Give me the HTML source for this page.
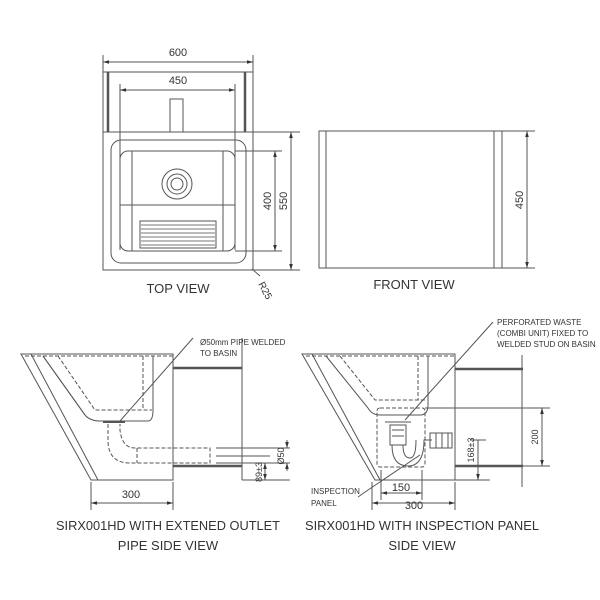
<!DOCTYPE html>
<html><head><meta charset="utf-8"><style>
html,body{margin:0;padding:0;background:#fff;width:600px;height:600px;overflow:hidden}
svg{display:block}
text{font-family:"Liberation Sans",sans-serif;fill:#333}
</style></head><body>
<svg width="600" height="600" viewBox="0 0 600 600" xmlns="http://www.w3.org/2000/svg">
<defs>
<marker id="a" viewBox="0 0 10 10" refX="10" refY="5" markerWidth="6" markerHeight="6" orient="auto-start-reverse"><path d="M0,2L10,5L0,8z" fill="#333"/></marker>
</defs>
<g stroke="#555" stroke-width="1" fill="none">
<!-- TOP VIEW -->
<rect x="103" y="132" width="150" height="138"/>
<rect x="111" y="140" width="135" height="123" rx="10"/>
<rect x="120" y="151" width="115" height="100" rx="8"/>
<path d="M132,151 V251 M223,151 V251 M120,205 H235"/>
<circle cx="177" cy="184" r="15"/><circle cx="177" cy="184" r="10"/><circle cx="177" cy="184" r="6"/>
<rect x="140" y="221" width="76" height="27"/>
<path d="M141,225H215M141,229H215M141,233H215M141,237H215M141,241H215M141,245H215" stroke="#777"/>
<rect x="170" y="99" width="13" height="33"/>
<path d="M108,72V132M245,72V132" stroke-width="2.5"/>
<path d="M103,55V132M253,55V132"/>
<line x1="103" y1="62" x2="253" y2="62" marker-start="url(#a)" marker-end="url(#a)"/>
<line x1="103" y1="72" x2="253" y2="72"/>
<path d="M120,84V250M235,84V250"/>
<line x1="120" y1="90" x2="235" y2="90" marker-start="url(#a)" marker-end="url(#a)"/>
<path d="M235,151H282M235,251H282M253,132H300M253,270H300"/>
<line x1="275" y1="151" x2="275" y2="251" marker-start="url(#a)" marker-end="url(#a)"/>
<line x1="291" y1="132" x2="291" y2="270" marker-start="url(#a)" marker-end="url(#a)"/>
<line x1="252" y1="269" x2="260" y2="276"/>
<!-- FRONT VIEW -->
<rect x="319" y="131" width="183" height="137"/>
<path d="M326,131V268M494,131V268"/>
<path d="M502,131H535M502,268H535"/>
<line x1="527" y1="131" x2="527" y2="268" marker-start="url(#a)" marker-end="url(#a)"/>
<!-- SIDE VIEW 1 -->
<path d="M21,354H173V480H91Z"/>
<path d="M31,354L98,480"/>
<path d="M43,356L85,415Q90,421 100,421H148Q153,421 153,410V356"/>
<path d="M43,356L85,415" />
<path d="M25,356H173" stroke-dasharray="4,2"/>
<path d="M58,356L95,410H152M143,356V410M58,356" stroke-dasharray="4,2"/>
<path d="M108,424V440Q108,463 130,463H210V448H135Q122,448 120,430V424" stroke-dasharray="4,2"/>
<path d="M137,448V463" stroke-dasharray="4,2"/>
<path d="M103,422H125" stroke-width="2"/>
<path d="M173,368H242M173,466H242" stroke-width="2.5"/>
<path d="M242,338V480"/>
<path d="M216,448H290M216,456H270M216,463H290M242,480H290"/>
<line x1="287" y1="440" x2="287" y2="448" marker-end="url(#a)"/>
<line x1="287" y1="471" x2="287" y2="463" marker-end="url(#a)"/>
<line x1="265" y1="463" x2="265" y2="480" marker-start="url(#a)" marker-end="url(#a)"/>
<path d="M91,482V510M173,482V510"/>
<line x1="91" y1="503" x2="173" y2="503" marker-start="url(#a)" marker-end="url(#a)"/>
<path d="M193,338L120,421"/>
<!-- SIDE VIEW 2 -->
<path d="M302,354H455V480H375Z"/>
<path d="M312,354L380,480"/>
<path d="M326,356L368,408Q372,415 380,415H420Q428,415 428,405V356"/>
<path d="M306,356H455" stroke-dasharray="4,2"/>
<path d="M340,356L375,400H425M418,356V400" stroke-dasharray="4,2"/>
<rect x="377" y="408" width="48" height="59" rx="3" stroke-dasharray="4,2"/>
<rect x="390" y="425" width="16" height="20"/>
<path d="M385,422H411M392,430H404M392,436H404"/>
<path d="M392,445Q392,466 408,466Q424,466 424,440H432M403,445Q403,458 410,458Q416,458 416,440"/>
<rect x="430" y="433" width="22" height="15"/>
<path d="M436,433V448M442,433V448M448,433V448"/>
<path d="M455,369H523M455,466H523" stroke-width="2.5"/>
<path d="M522,355V487"/>
<path d="M425,408H550M455,466H550M455,480H490"/>
<line x1="542" y1="408" x2="542" y2="466" marker-start="url(#a)" marker-end="url(#a)"/>
<line x1="478" y1="440" x2="478" y2="480" marker-end="url(#a)"/>
<path d="M470,440H486"/>
<path d="M381,470V500M422,470V500M372,482V510M455,482V510"/>
<line x1="381" y1="493" x2="422" y2="493" marker-start="url(#a)" marker-end="url(#a)"/>
<line x1="372" y1="503" x2="455" y2="503" marker-start="url(#a)" marker-end="url(#a)"/>
<path d="M493,322L405,420"/>
<path d="M358,497L368,490L420,455"/>
</g>
<g font-size="11">
<text x="178" y="56" text-anchor="middle">600</text>
<text x="178" y="84" text-anchor="middle">450</text>
<text transform="translate(271,201) rotate(-90)" text-anchor="middle">400</text>
<text transform="translate(287,201) rotate(-90)" text-anchor="middle">550</text>
<text transform="translate(258,284) rotate(62)" font-size="10">R25</text>
<text transform="translate(523,200) rotate(-90)" text-anchor="middle">450</text>
<text x="131" y="498" text-anchor="middle">300</text>
<text transform="translate(284,456) rotate(-90)" text-anchor="middle" font-size="9">Ø50</text>
<text transform="translate(262,472) rotate(-90)" text-anchor="middle" font-size="9">89±3</text>
<text transform="translate(538,437) rotate(-90)" text-anchor="middle" font-size="9">200</text>
<text transform="translate(474,450) rotate(-90)" text-anchor="middle" font-size="9">168±3</text>
<text x="401" y="491" text-anchor="middle">150</text>
<text x="414" y="509" text-anchor="middle">300</text>
</g>
<g font-size="8">
<text x="200" y="345">Ø50mm PIPE WELDED</text>
<text x="200" y="356">TO BASIN</text>
<text x="497" y="325">PERFORATED WASTE</text>
<text x="497" y="336">(COMBI UNIT) FIXED TO</text>
<text x="497" y="347">WELDED STUD ON BASIN</text>
<text x="311" y="494">INSPECTION</text>
<text x="311" y="506">PANEL</text>
</g>
<g font-size="13" text-anchor="middle">
<text x="178" y="293">TOP VIEW</text>
<text x="414" y="289">FRONT VIEW</text>
<text x="168" y="530" textLength="224" lengthAdjust="spacingAndGlyphs">SIRX001HD WITH EXTENED OUTLET</text>
<text x="168" y="550">PIPE SIDE VIEW</text>
<text x="422" y="530" textLength="234" lengthAdjust="spacingAndGlyphs">SIRX001HD WITH INSPECTION PANEL</text>
<text x="422" y="550">SIDE VIEW</text>
</g>
</svg>
</body></html>
